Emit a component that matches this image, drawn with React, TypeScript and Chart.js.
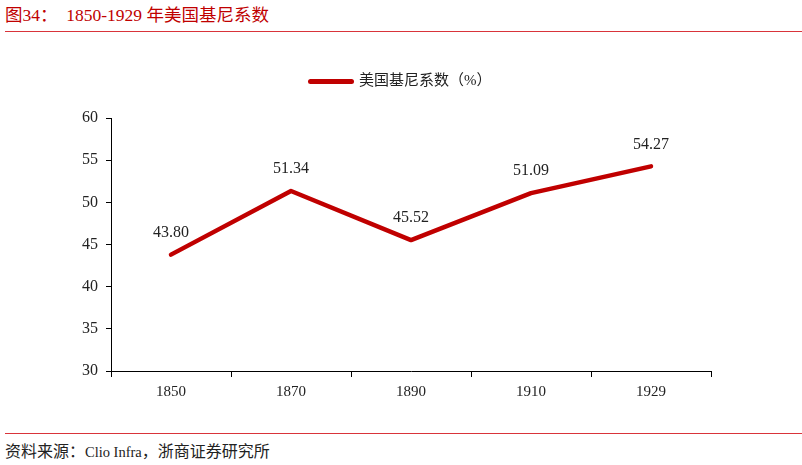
import React, { useEffect, useRef } from "react";
import { Chart, registerables } from "chart.js";

Chart.register(...registerables);

const categories = ["1850", "1870", "1890", "1910", "1929"];
const giniValues = [43.8, 51.34, 45.52, 51.09, 54.27];
const seriesLabel = "美国基尼系数（%）";
const yMin = 30;
const yMax = 60;
const yStep = 5;

const RED = "#c00000";
const FONT = '"Liberation Serif", "Noto Sans CJK SC", serif';

const valueLabels = {
  id: "valueLabels",
  afterDatasetsDraw(chart: any) {
    const ctx = chart.ctx;
    const meta = chart.getDatasetMeta(0);
    ctx.save();
    ctx.font = `16px ${FONT}`;
    ctx.fillStyle = "#222";
    ctx.textAlign = "center";
    ctx.textBaseline = "middle";
    meta.data.forEach((pt: any, i: number) => {
      const v = chart.data.datasets[0].data[i] as number;
      ctx.fillText(v.toFixed(2), pt.x, pt.y - 22);
    });
    ctx.restore();
  },
};

export default function App() {
  const ref = useRef<HTMLCanvasElement | null>(null);
  useEffect(() => {
    if (!ref.current) return;
    const chart = new Chart(ref.current, {
      type: "line",
      data: {
        labels: categories,
        datasets: [
          {
            label: seriesLabel,
            data: giniValues,
            borderColor: RED,
            backgroundColor: RED,
            borderWidth: 4.5,
            pointRadius: 0,
            borderCapStyle: "round",
            borderJoinStyle: "round",
            tension: 0,
            yAxisID: "y",
          },
        ],
      },
      options: {
        animation: false,
        responsive: false,
        devicePixelRatio: 1,
        layout: { padding: { left: 0, right: 0, top: 3, bottom: 0 } },
        plugins: {
          title: {
            display: true,
            text: " ",
            position: "top",
            weight: 500,
            padding: { top: 0, bottom: 9 },
            font: { size: 10, lineHeight: 1 },
            color: "rgba(0,0,0,0)",
          },
          legend: {
            display: true,
            position: "top",
            weight: 1000,
            labels: {
              usePointStyle: true,
              pointStyle: "line",
              pointStyleWidth: 41,
              padding: 31,
              color: "#222",
              font: { family: FONT, size: 15 },
              generateLabels: () => [
                {
                  text: seriesLabel,
                  fillStyle: RED,
                  strokeStyle: RED,
                  lineWidth: 5,
                  lineCap: "round",
                  pointStyle: "line",
                  datasetIndex: 0,
                  hidden: false,
                  fontColor: "#222",
                },
              ],
            },
          },
          tooltip: { enabled: false },
        },
        scales: {
          x: {
            type: "category",
            offset: true,
            grid: {
              display: true,
              drawOnChartArea: false,
              offset: true,
              tickLength: 6,
              color: "#000",
            },
            border: { color: "#000", width: 1 },
            ticks: {
              color: "#222",
              font: { family: FONT, size: 15 },
              padding: 6,
            },
            afterFit: (s: any) => {
              s.height = 59;
            },
          },
          y: {
            min: yMin,
            max: yMax,
            position: "left",
            grid: {
              display: true,
              drawOnChartArea: false,
              tickLength: 5,
              color: "#000",
            },
            border: { color: "#000", width: 1 },
            ticks: {
              stepSize: yStep,
              color: "#222",
              font: { family: FONT, size: 16 },
              padding: 8,
            },
            afterFit: (s: any) => {
              s.width = 111;
            },
          },
          yRight: {
            position: "right",
            min: yMin,
            max: yMax,
            grid: { display: false, drawOnChartArea: false },
            border: { display: false },
            ticks: { display: false },
            afterFit: (s: any) => {
              s.width = 91;
            },
          },
        },
      },
      plugins: [valueLabels],
    });
    return () => chart.destroy();
  }, []);

  return (
    <div
      style={{
        position: "absolute",
        left: 0,
        top: 0,
        width: 802,
        height: 465,
        background: "#fff",
        fontFamily: FONT,
        overflow: "hidden",
      }}
    >
      <div
        style={{
          position: "absolute",
          left: 5,
          top: 4,
          fontSize: 17.5,
          color: RED,
          whiteSpace: "pre",
          lineHeight: "22px",
        }}
      >
        {"图34：  1850-1929 年美国基尼系数"}
      </div>
      <div
        style={{
          position: "absolute",
          left: 5,
          right: 0,
          top: 31,
          height: 1,
          background: "#d9343a",
        }}
      />
      <canvas
        ref={ref}
        width={802}
        height={390}
        style={{ position: "absolute", left: 0, top: 40, width: 802, height: 390 }}
      />
      <div
        style={{
          position: "absolute",
          left: 5,
          right: 0,
          top: 433,
          height: 1,
          background: "#d9343a",
        }}
      />
      <div
        style={{
          position: "absolute",
          left: 5,
          top: 441,
          fontSize: 16,
          color: "#222",
          whiteSpace: "pre",
          lineHeight: "22px",
        }}
      >
        资料来源：<span style={{ fontSize: 14.5 }}>Clio Infra</span>，浙商证券研究所
      </div>
    </div>
  );
}
